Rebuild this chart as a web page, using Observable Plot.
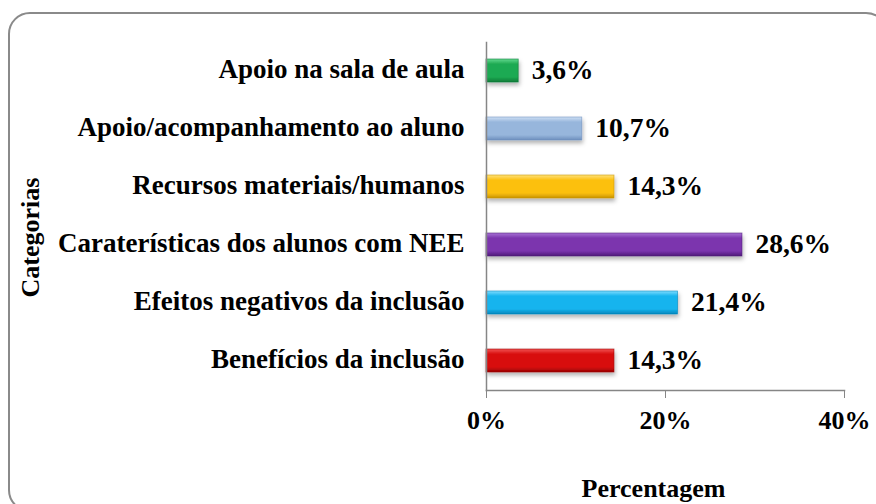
<!DOCTYPE html>
<html>
<head>
<meta charset="utf-8">
<script src="https://cdn.jsdelivr.net/npm/d3@7"></script>
<script src="https://cdn.jsdelivr.net/npm/@observablehq/plot@0.6"></script>
<style>
  html, body { margin: 0; padding: 0; background: #fff; overflow: hidden; }
  #wrap { position: relative; width: 876px; height: 504px; overflow: hidden; }
  #border { position: absolute; left: 8px; top: 12px; width: 880px; height: 500px;
    border: 2px solid #8a8a8a; border-radius: 22px; box-sizing: border-box; }
  #wrap svg { position: absolute; left: 0; top: 0; }
</style>
</head>
<body>
<div id="wrap"><div id="border"></div></div>
<script>
const categories = [
  "Apoio na sala de aula",
  "Apoio/acompanhamento ao aluno",
  "Recursos materiais/humanos",
  "Caraterísticas dos alunos com NEE",
  "Efeitos negativos da inclusão",
  "Benefícios da inclusão"
];
const values = [3.6, 10.7, 14.3, 28.6, 21.4, 14.3];
const labels = ["3,6%", "10,7%", "14,3%", "28,6%", "21,4%", "14,3%"];
const colors = [
  ["#63d98f", "#1eaa52", "#0d7a38"],
  ["#cfe0f5", "#97b6dc", "#6d8fbd"],
  ["#ffe27a", "#fcc010", "#c99400"],
  ["#a873d6", "#7b35ae", "#4f1a78"],
  ["#7fdcff", "#15b4ee", "#0287bd"],
  ["#f25050", "#d81010", "#990000"]
];
const xTicks = [0, 20, 40];

const data = categories.map((c, i) => ({cat: c, v: values[i], label: labels[i], grad: `url(#g${i})`, edge: colors[i][2]}));

const font = "'Liberation Serif', 'Times New Roman', serif";

const chart = Plot.plot({
  width: 876,
  height: 504,
  marginLeft: 486,
  marginRight: 32,
  marginTop: 42,
  marginBottom: 114,
  style: {fontFamily: font, fontWeight: "bold", fontSize: "26px", color: "#000", background: "transparent"},
  x: {domain: [0, 40], ticks: xTicks, tickFormat: d => d + "%", label: null},
  y: {domain: categories, paddingInner: 0.6, paddingOuter: 0.3, label: null},
  color: {type: "identity"},
  marks: [
    Plot.barX(data, {x: "v", y: "cat", fill: "grad", stroke: "edge", strokeWidth: 0.8, strokeOpacity: 0.7}),
    Plot.text(data, {x: "v", y: "cat", text: "label", textAnchor: "start", dx: 13, dy: -1, fontSize: 27.5, fontWeight: "bold"}),
    Plot.frame({anchor: "left", stroke: "#868686", strokeWidth: 1.5, strokeOpacity: 1}),
    Plot.frame({anchor: "bottom", stroke: "#868686", strokeWidth: 1.5, strokeOpacity: 1}),
    Plot.axisX({ticks: xTicks, tickFormat: d => d + "%", tickSize: 8, tickPadding: 12, stroke: "#868686", strokeOpacity: 1, fontSize: 26, label: null}),
    Plot.axisY({tickSize: 0, tickPadding: 22, fontSize: 27, dy: -2, label: null}),
    Plot.text(["Percentagem"], {frameAnchor: "bottom", x: 20, dx: -12, dy: 106, fontSize: 26, fontWeight: "bold"}),
    Plot.text(["Categorias"], {frameAnchor: "left", textAnchor: "middle", dx: -456, dy: 21, rotate: -90, fontSize: 26, fontWeight: "bold"})
  ]
});

const svg = d3.select(chart);
const defs = svg.insert("defs", ":first-child");
colors.forEach((c, i) => {
  const g = defs.append("linearGradient").attr("id", `g${i}`).attr("x1", 0).attr("y1", 0).attr("x2", 0).attr("y2", 1);
  g.append("stop").attr("offset", "0%").attr("stop-color", c[0]);
  g.append("stop").attr("offset", "22%").attr("stop-color", c[1]);
  g.append("stop").attr("offset", "78%").attr("stop-color", c[1]);
  g.append("stop").attr("offset", "100%").attr("stop-color", c[2]);
});
const f = defs.append("filter").attr("id", "shadow").attr("x", "-10%").attr("y", "-30%").attr("width", "130%").attr("height", "180%");
f.append("feDropShadow").attr("dx", 1).attr("dy", 3).attr("stdDeviation", 2).attr("flood-color", "#000").attr("flood-opacity", 0.3);
svg.selectAll("g[aria-label='bar'] rect").attr("filter", "url(#shadow)");

document.getElementById("wrap").appendChild(chart);
</script>
</body>
</html>
